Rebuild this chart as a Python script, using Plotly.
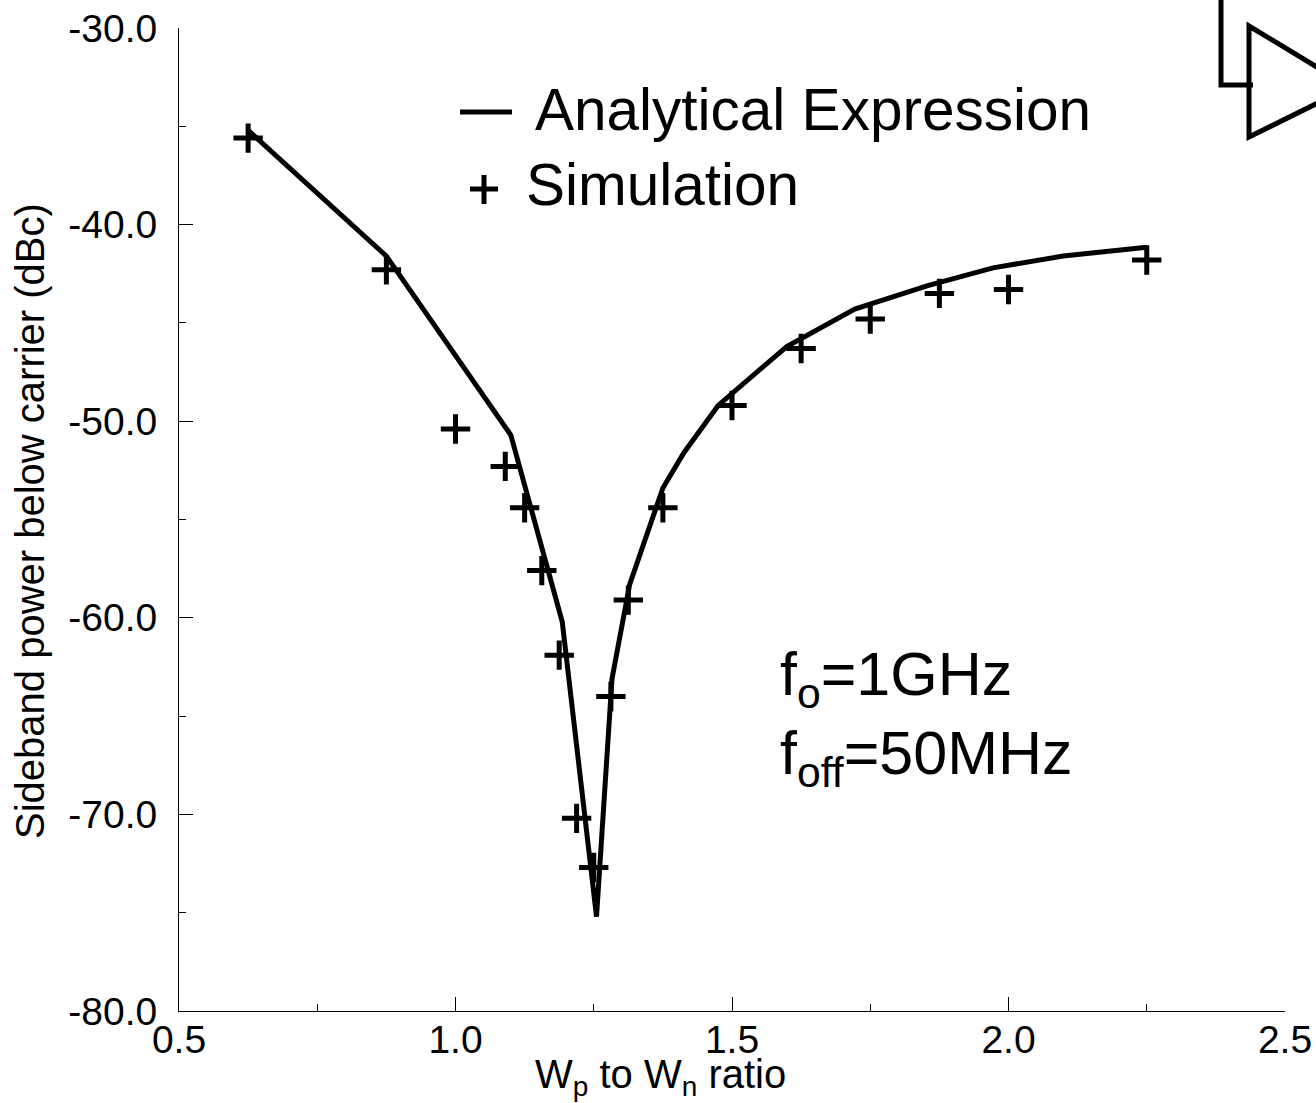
import plotly.graph_objects as go

line_x = [0.625, 0.875, 1.1, 1.193, 1.255, 1.283, 1.315, 1.352, 1.375, 1.413, 1.475, 1.599, 1.722, 1.854, 1.972, 2.099, 2.25]
line_y = [-35.2, -41.6, -50.7, -60.2, -75.2, -63.1, -58.3, -55.2, -53.4, -51.6, -49.2, -46.2, -44.3, -43.1, -42.2, -41.6, -41.15]
sim_x = [0.625, 0.875, 1.0, 1.09, 1.125, 1.156, 1.1875, 1.219, 1.25, 1.281, 1.3125, 1.375, 1.5, 1.625, 1.75, 1.875, 2.0, 2.25]
sim_y = [-35.6, -42.3, -50.4, -52.3, -54.4, -57.6, -61.9, -70.2, -72.7, -64.0, -59.1, -54.4, -49.2, -46.3, -44.8, -43.5, -43.3, -41.8]
x_ticks = [0.5, 1.0, 1.5, 2.0, 2.5]
y_ticks = [-30, -40, -50, -60, -70, -80]

FONT = "Liberation Sans"
L, R, T, B = 179, 1285, 28, 1011
px = lambda v: (v - L) / (R - L)
py = lambda v: (B - v) / (B - T)

fig = go.Figure()
fig.add_trace(go.Scatter(x=line_x, y=line_y, mode="lines", name="Analytical Expression",
                         line=dict(color="black", width=5), showlegend=False, cliponaxis=False))
fig.add_trace(go.Scatter(x=sim_x, y=sim_y, mode="markers", name="Simulation", showlegend=False,
                         marker=dict(symbol="cross-thin", size=21, color="black",
                                     line=dict(color="black", width=5)), cliponaxis=False))

shapes = [
    dict(type="path", xref="paper", yref="paper", line=dict(color="black", width=5),
         path=f"M {px(1221)} {py(-5)} L {px(1221)} {py(85)} L {px(1253)} {py(85)}"),
    dict(type="path", xref="paper", yref="paper", line=dict(color="black", width=5),
         path=f"M {px(1340)} {py(81)} L {px(1249)} {py(26)} L {px(1249)} {py(137)} L {px(1340)} {py(92)}"),
    dict(type="line", xref="paper", yref="paper", line=dict(color="black", width=5),
         x0=px(460), x1=px(512), y0=py(112), y1=py(112)),
    dict(type="line", xref="paper", yref="paper", line=dict(color="black", width=5),
         x0=px(470), x1=px(498), y0=py(189), y1=py(189)),
    dict(type="line", xref="paper", yref="paper", line=dict(color="black", width=5),
         x0=px(484), x1=px(484), y0=py(175), y1=py(204)),
]

def note(text, x, y, size, xanchor="left", angle=0):
    return dict(text=text, xref="paper", yref="paper", x=px(x), y=py(y), xanchor=xanchor, yanchor="middle",
                showarrow=False, textangle=angle, font=dict(family=FONT, size=size, color="black"))

annotations = [
    note("Analytical Expression", 533, 109, 58.5),
    note("Simulation", 524, 185, 58.5),
    note("f<sub>o</sub>=1GHz", 778, 678, 61),
    note("f<sub>off</sub>=50MHz", 778, 757, 61),
    note("W<sub>p</sub> to W<sub>n</sub> ratio", 660, 1077, 40, xanchor="center"),
    note("Sideband power below carrier (dBc)", 30, 521, 40, xanchor="center", angle=-90),
]

axis_common = dict(tickmode="array", ticks="inside", ticklen=14, tickwidth=1, tickcolor="black", showgrid=False,
                   zeroline=False, showline=True, linecolor="black", linewidth=1,
                   tickfont=dict(size=39, family=FONT))

fig.update_layout(
    width=1316, height=1103, autosize=False, showlegend=False,
    paper_bgcolor="white", plot_bgcolor="white",
    margin=dict(l=L, r=1316 - R, t=T, b=1103 - B, pad=0, autoexpand=False),
    font=dict(family=FONT, color="black"),
    shapes=shapes, annotations=annotations,
    xaxis=dict(range=[0.5, 2.5], tickvals=x_ticks, ticktext=[f"{v:.1f}" for v in x_ticks], ticklabelstandoff=-6,
               minor=dict(tickmode="array", tickvals=[0.75, 1.25, 1.75, 2.25], ticks="inside", ticklen=7,
                          tickwidth=1, tickcolor="black", showgrid=False), **axis_common),
    yaxis=dict(range=[-80, -30], tickvals=y_ticks, ticktext=[f"{v:.1f}" for v in y_ticks], ticklabelstandoff=13,
               minor=dict(tickmode="array", tickvals=[-35, -45, -55, -65, -75], ticks="inside", ticklen=7,
                          tickwidth=1, tickcolor="black", showgrid=False), **axis_common),
)
fig.write_html("out.html", config={"displayModeBar": False},
               post_script="document.body.style.margin='0';document.documentElement.style.overflow='hidden';")
